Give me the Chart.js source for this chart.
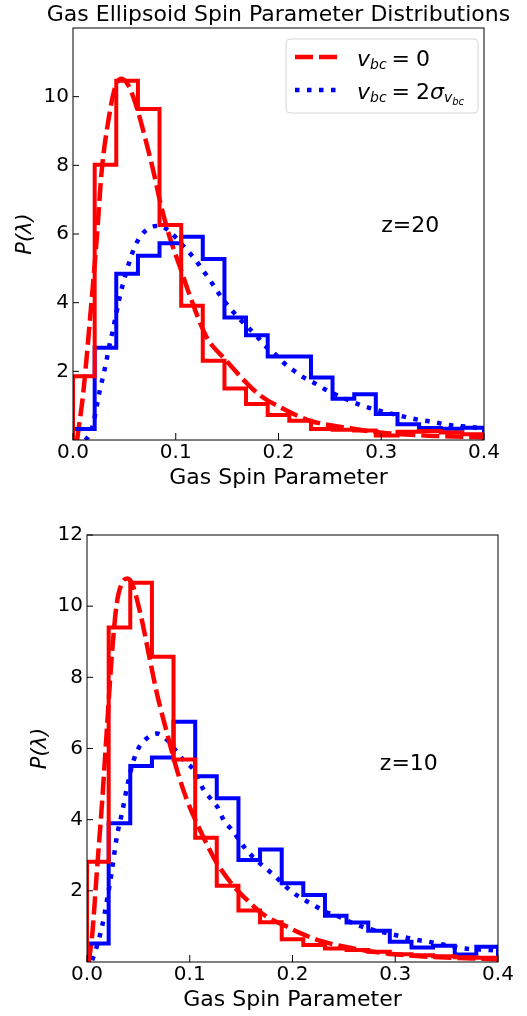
<!DOCTYPE html>
<html lang="en">
<head>
<meta charset="UTF-8">
<title>Gas Ellipsoid Spin Parameter Distributions</title>
<script src="https://cdn.jsdelivr.net/npm/chart.js@4"></script>
<style>
  body { margin: 0; background: #fff; }
  .panel { position: absolute; left: 0; width: 527px; }
  #panelTop { top: 0; height: 500px; }
  #panelBottom { top: 500px; height: 516px; }
</style>
</head>
<body>
<div class="panel" id="panelTop"><canvas id="chartZ20"></canvas></div>
<div class="panel" id="panelBottom"><canvas id="chartZ10"></canvas></div>

<script>
  // bin edges of the histograms (19 bins between 0 and 0.4)
  const binEdges = [0, 0.0211, 0.0421, 0.0632, 0.0842, 0.1053, 0.1263, 0.1474, 0.1684, 0.1895,
                    0.2105, 0.2316, 0.2526, 0.2737, 0.2947, 0.3158, 0.3368, 0.3579, 0.3789, 0.4];
  const xTicks = [0, 0.1, 0.2, 0.3, 0.4];
  const yTicksZ20 = [2, 4, 6, 8, 10];
  const yTicksZ10 = [2, 4, 6, 8, 10, 12];

  // z=20 histograms
  const histNoVbcZ20 = [1.86, 8.02, 10.46, 9.64, 6.26, 3.91, 2.31, 1.50, 1.05, 0.73,
                        0.56, 0.32, 0.30, 0.28, 0.13, 0.24, 0.26, 0.22, 0.17];
  const histVbcZ20 = [0.32, 2.69, 4.84, 5.37, 5.73, 5.92, 5.27, 3.57, 3.05, 2.43,
                      2.43, 1.82, 1.20, 1.33, 0.76, 0.46, 0.35, 0.33, 0.36];

  // z=20 fitted curves
  const fitNoVbcZ20X = [0.004, 0.010, 0.0165, 0.023, 0.028, 0.0344, 0.041, 0.047, 0.054, 0.062,
                        0.070, 0.078, 0.086, 0.094, 0.104, 0.114, 0.130, 0.148, 0.180, 0.205,
                        0.231, 0.270, 0.305, 0.351, 0.399];
  const fitNoVbcZ20Y = [0.0, 1.38, 3.51, 5.83, 7.86, 9.30, 10.27, 10.52, 10.32, 9.69,
                        8.82, 7.86, 6.79, 5.92, 5.05, 4.18, 3.00, 2.35, 1.35, 0.90,
                        0.56, 0.34, 0.20, 0.12, 0.08];
  const fitVbcZ20X = [0.012, 0.016, 0.0198, 0.026, 0.031, 0.036, 0.0386, 0.0457, 0.052, 0.0555,
                      0.0594, 0.065, 0.073, 0.0847, 0.094, 0.1106, 0.119, 0.126, 0.133, 0.146,
                      0.154, 0.1625, 0.179, 0.187, 0.197, 0.205, 0.214, 0.224, 0.2355, 0.245,
                      0.278, 0.289, 0.325, 0.336, 0.347, 0.372, 0.383, 0.4];
  const fitVbcZ20Y = [0.0, 0.15, 0.5, 1.43, 2.08, 2.83, 3.17, 4.2, 4.91, 5.25,
                      5.58, 5.9, 6.15, 6.24, 6.07, 5.54, 5.25, 4.96, 4.67, 4.09,
                      3.80, 3.51, 3.02, 2.74, 2.49, 2.25, 2.04, 1.83, 1.65, 1.48,
                      1.04, 0.93, 0.66, 0.59, 0.54, 0.41, 0.39, 0.33];

  // z=10 histograms
  const histNoVbcZ10 = [2.82, 9.40, 10.66, 8.58, 5.69, 3.49, 2.14, 1.45, 1.12, 0.64,
                        0.48, 0.38, 0.34, 0.29, 0.22, 0.19, 0.16, 0.13, 0.12];
  const histVbcZ10 = [0.52, 3.90, 5.51, 5.75, 6.75, 5.22, 4.60, 2.87, 3.16, 2.21,
                      1.88, 1.30, 1.11, 0.88, 0.57, 0.41, 0.46, 0.21, 0.43];

  // z=10 fitted curves
  const fitNoVbcZ10X = [0.0016, 0.0049, 0.0097, 0.0146, 0.0195, 0.0243, 0.029, 0.034, 0.039, 0.0438,
                        0.0519, 0.060, 0.068, 0.078, 0.0876, 0.0973, 0.110, 0.124, 0.138, 0.158,
                        0.175, 0.195, 0.2076, 0.230, 0.2595, 0.292, 0.331, 0.399];
  const fitNoVbcZ10Y = [0.0, 0.71, 2.58, 4.46, 6.61, 8.67, 10.08, 10.64, 10.78, 10.64,
                        9.80, 8.67, 7.55, 6.42, 5.39, 4.55, 3.71, 2.90, 2.30, 1.68,
                        1.27, 0.99, 0.81, 0.57, 0.38, 0.24, 0.15, 0.08];
  const fitVbcZ10X = [0.005, 0.0081, 0.0146, 0.0195, 0.0243, 0.029, 0.034, 0.039, 0.0454, 0.050,
                      0.058, 0.068, 0.078, 0.086, 0.094, 0.104, 0.1135, 0.1216, 0.127, 0.133,
                      0.141, 0.156, 0.172, 0.182, 0.1995, 0.209, 0.2206, 0.232, 0.2416, 0.263,
                      0.310, 0.321, 0.332, 0.368, 0.391, 0.4];
  const fitVbcZ10Y = [0.05, 0.3, 0.99, 1.74, 2.58, 3.52, 4.18, 4.92, 5.67, 6.0,
                      6.28, 6.42, 6.24, 5.96, 5.67, 5.39, 4.84, 4.55, 4.35, 3.99,
                      3.71, 3.12, 2.68, 2.44, 1.97, 1.79, 1.60, 1.41, 1.32, 1.04,
                      0.69, 0.62, 0.57, 0.38, 0.34, 0.32];

  const RED = '#ff0000';
  const BLUE = '#0000ff';
  const FONT = '"DejaVu Sans", sans-serif';

  Chart.defaults.font.family = FONT;
  Chart.defaults.color = '#000';

  // outline of a step histogram, like histtype='step'
  function stepPoints(values) {
    const pts = [{ x: binEdges[0], y: 0 }];
    values.forEach((v, i) => pts.push({ x: binEdges[i], y: v }));
    const n = values.length;
    pts.push({ x: binEdges[n], y: values[n - 1] });
    pts.push({ x: binEdges[n], y: 0 });
    return pts;
  }

  function curvePoints(xs, ys) {
    return xs.map((x, i) => ({ x: x, y: ys[i] }));
  }

  function histDataset(values, color) {
    return {
      data: stepPoints(values),
      borderColor: color,
      borderWidth: 4,
      stepped: 'before',
      pointRadius: 0,
      fill: false,
      clip: 0
    };
  }

  function curveDataset(xs, ys, color, dash) {
    return {
      data: curvePoints(xs, ys),
      borderColor: color,
      borderWidth: 4.5,
      borderDash: dash,
      borderCapStyle: 'butt',
      cubicInterpolationMode: 'monotone',
      pointRadius: 0,
      fill: false,
      clip: 0
    };
  }

  // inward ticks and the box around the axes
  const frameAndTicks = {
    id: 'frameAndTicks',
    afterDatasetsDraw(chart) {
      const { ctx, chartArea: a, scales: { x, y } } = chart;
      ctx.save();
      ctx.strokeStyle = '#000';
      ctx.lineWidth = 1;
      ctx.beginPath();
      x.ticks.forEach(t => {
        const px = x.getPixelForValue(t.value);
        ctx.moveTo(px, a.bottom);
        ctx.lineTo(px, a.bottom - 7);
      });
      y.ticks.forEach(t => {
        const py = y.getPixelForValue(t.value);
        ctx.moveTo(a.left, py);
        ctx.lineTo(a.left + 6, py);
      });
      ctx.stroke();
      ctx.strokeRect(a.left, a.top, a.right - a.left, a.bottom - a.top);
      ctx.restore();
    }
  };

  // writes text made of pieces: [text, size, italic, dy, gapBefore]
  function mathText(ctx, parts, x, y) {
    parts.forEach(([txt, size, italic, dy, gap]) => {
      x += gap || 0;
      ctx.font = (italic ? 'italic ' : '') + size + 'px ' + FONT;
      ctx.fillText(txt, x, y + dy);
      x += ctx.measureText(txt).width;
    });
  }

  // title, z label and legend
  const panelNotes = {
    id: 'panelNotes',
    afterDraw(chart, args, opts) {
      const { ctx, chartArea: a, scales: { x, y } } = chart;
      ctx.save();
      ctx.fillStyle = '#000';

      if (opts.title) {
        ctx.font = '22px ' + FONT;
        ctx.textAlign = 'center';
        ctx.textBaseline = 'middle';
        ctx.fillText(opts.title, (a.left + a.right) / 2, a.top - 13);
        ctx.textAlign = 'left';
      }

      ctx.textBaseline = 'alphabetic';
      ctx.font = '22px ' + FONT;
      ctx.fillText(opts.label, x.getPixelForValue(opts.labelX), y.getPixelForValue(opts.labelY));

      if (opts.legend) {
        const bx = a.right - 198, by = a.top + 11, bw = 192, bh = 74, r = 4;
        ctx.beginPath();
        ctx.moveTo(bx + r, by);
        ctx.lineTo(bx + bw - r, by);
        ctx.arcTo(bx + bw, by, bx + bw, by + r, r);
        ctx.lineTo(bx + bw, by + bh - r);
        ctx.arcTo(bx + bw, by + bh, bx + bw - r, by + bh, r);
        ctx.lineTo(bx + r, by + bh);
        ctx.arcTo(bx, by + bh, bx, by + bh - r, r);
        ctx.lineTo(bx, by + r);
        ctx.arcTo(bx, by, bx + r, by, r);
        ctx.closePath();
        ctx.fillStyle = 'rgba(255,255,255,0.8)';
        ctx.fill();
        ctx.strokeStyle = '#d6d6d6';
        ctx.lineWidth = 1;
        ctx.stroke();

        ctx.lineWidth = 4.5;
        ctx.lineCap = 'butt';
        ctx.strokeStyle = RED;
        ctx.setLineDash([18, 6]);
        ctx.beginPath();
        ctx.moveTo(bx + 9, by + 18);
        ctx.lineTo(bx + 51, by + 18);
        ctx.stroke();
        ctx.strokeStyle = BLUE;
        ctx.setLineDash([4.5, 7.5]);
        ctx.beginPath();
        ctx.moveTo(bx + 9, by + 51);
        ctx.lineTo(bx + 51, by + 51);
        ctx.stroke();
        ctx.setLineDash([]);

        ctx.fillStyle = '#000';
        mathText(ctx, [['v', 22, true, 0, 0], ['bc', 14, true, 3, 0], ['=', 22, false, 0, 5], ['0', 22, false, 0, 6]],
                 bx + 71, by + 26.5);
        mathText(ctx, [['v', 22, true, 0, 0], ['bc', 14, true, 3, 0], ['=', 22, false, 0, 5], ['2', 22, false, 0, 6],
                       ['σ', 22, true, 0, 0], ['v', 14, true, 3.5, 0], ['bc', 10, true, 6, 0]],
                 bx + 71, by + 59.5);
      }
      ctx.restore();
    }
  };

  function buildChart(canvasId, cfg) {
    return new Chart(document.getElementById(canvasId), {
      type: 'line',
      data: {
        datasets: [
          histDataset(cfg.histNoVbc, RED),
          histDataset(cfg.histVbc, BLUE),
          curveDataset(cfg.fitNoVbcX, cfg.fitNoVbcY, RED, [18, 6]),
          curveDataset(cfg.fitVbcX, cfg.fitVbcY, BLUE, [4.5, 7.5])
        ]
      },
      options: {
        responsive: true,
        maintainAspectRatio: false,
        animation: false,
        devicePixelRatio: 1,
        layout: { padding: cfg.padding },
        scales: {
          x: {
            type: 'linear',
            min: 0,
            max: 0.4,
            grid: { display: false, drawTicks: false },
            border: { display: false },
            afterBuildTicks: (scale) => { scale.ticks = xTicks.map(v => ({ value: v })); },
            afterFit: (scale) => { scale.height = cfg.xHeight; },
            ticks: {
              autoSkip: false,
              maxRotation: 0,
              padding: 1,
              font: { size: 20 },
              callback: (v) => v.toFixed(1)
            },
            title: {
              display: true,
              text: 'Gas Spin Parameter',
              font: { size: 22 },
              padding: { top: 0, bottom: cfg.xTitlePad }
            }
          },
          y: {
            type: 'linear',
            min: 0,
            max: 12,
            grid: { display: false, drawTicks: false },
            border: { display: false },
            afterBuildTicks: (scale) => { scale.ticks = cfg.yTicks.map(v => ({ value: v })); },
            afterFit: (scale) => { scale.width = cfg.yWidth; },
            ticks: { padding: 4, font: { size: 20 } },
            title: {
              display: true,
              text: 'P(λ)',
              font: { size: 21, style: 'italic' },
              padding: { top: cfg.yTitlePad, bottom: 0 }
            }
          }
        },
        plugins: {
          legend: { display: false },
          tooltip: { enabled: false },
          title: { display: false },
          panelNotes: cfg.notes
        }
      },
      plugins: [frameAndTicks, panelNotes]
    });
  }

  buildChart('chartZ20', {
    histNoVbc: histNoVbcZ20, histVbc: histVbcZ20,
    fitNoVbcX: fitNoVbcZ20X, fitNoVbcY: fitNoVbcZ20Y,
    fitVbcX: fitVbcZ20X, fitVbcY: fitVbcZ20Y,
    yTicks: yTicksZ20,
    padding: { left: 0, right: 43, top: 28, bottom: 0 },
    xHeight: 60, yWidth: 73, xTitlePad: 9, yTitlePad: 13,
    notes: { title: 'Gas Ellipsoid Spin Parameter Distributions',
             label: 'z=20', labelX: 0.3, labelY: 6.07, legend: true }
  });

  buildChart('chartZ10', {
    histNoVbc: histNoVbcZ10, histVbc: histVbcZ10,
    fitNoVbcX: fitNoVbcZ10X, fitNoVbcY: fitNoVbcZ10Y,
    fitVbcX: fitVbcZ10X, fitVbcY: fitVbcZ10Y,
    yTicks: yTicksZ10,
    padding: { left: 0, right: 29, top: 35, bottom: 0 },
    xHeight: 54, yWidth: 87, xTitlePad: 3, yTitlePad: 28,
    notes: { title: null, label: 'z=10', labelX: 0.285, labelY: 5.39, legend: false }
  });
</script>
</body>
</html>
